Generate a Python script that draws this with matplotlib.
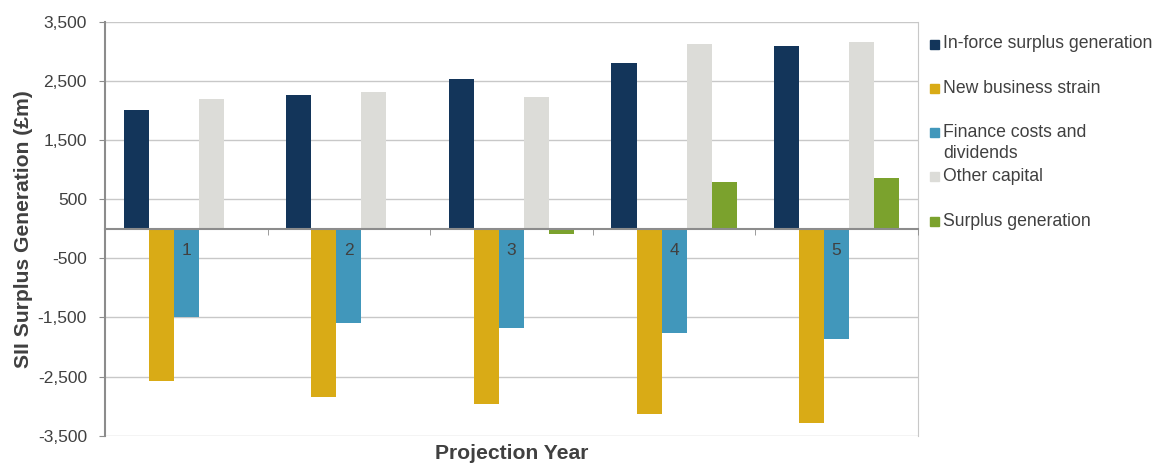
import matplotlib
matplotlib.use('Agg')
import matplotlib.pyplot as plt
from matplotlib.patches import Rectangle
from matplotlib.ticker import FuncFormatter, FixedLocator
import numpy as np

plt.rcParams['font.family'] = ['Liberation Sans', 'DejaVu Sans']

# data (GBP m)
years = ['1', '2', '3', '4', '5']
series_names = ['In-force surplus generation', 'New business strain',
                'Finance costs and\ndividends', 'Other capital', 'Surplus generation']
inforce = [2010, 2260, 2530, 2810, 3100]
new_business = [-2580, -2840, -2970, -3130, -3280]
finance = [-1500, -1590, -1670, -1770, -1870]
other_capital = [2200, 2320, 2225, 3125, 3165]
surplus = [0, 0, -90, 800, 855]
colors = ['#13355A', '#D9AB16', '#4197BB', '#DCDCD8', '#7BA22D']

text_col = '#404040'
fig = plt.figure(figsize=(11.58, 4.63), dpi=100)
ax = fig.add_axes([0.0907, 0.059, 0.702, 0.8935])

x = np.arange(len(years))
w = 0.154
all_series = [inforce, new_business, finance, other_capital, surplus]
for i, (vals, c) in enumerate(zip(all_series, colors)):
    ax.bar(x + (i - 2) * w, vals, width=w, color=c, zorder=2)

ax.set_xlim(-0.5, len(years) - 0.5)
ax.set_ylim(-3500, 3500)
ax.set_yticks(np.arange(-3500, 3501, 1000))
ax.yaxis.set_major_formatter(FuncFormatter(lambda v, p: f'{int(v):,}'))
ax.grid(axis='y', color='#C8C8C8', linewidth=1)
ax.set_axisbelow(True)
ax.xaxis.set_zorder(3)

# x axis sits on zero, labels at group centres, tick marks between groups
ax.spines['bottom'].set_position(('data', 0))
ax.spines['bottom'].set_color('#8C8C8C')
ax.spines['bottom'].set_linewidth(1.5)
ax.spines['left'].set_color('#8C8C8C')
ax.spines['left'].set_linewidth(1.5)
ax.spines['top'].set_visible(False)
ax.spines['right'].set_color('#C8C8C8')
ax.set_xticks(x)
ax.set_xticklabels(years)
ax.xaxis.set_minor_locator(FixedLocator(np.arange(-0.5, len(years), 1.0)))
ax.tick_params(axis='x', which='major', length=0, pad=10, labelsize=12.5, labelcolor=text_col)
ax.tick_params(axis='x', which='minor', length=4, color='#8C8C8C', direction='out')
ax.tick_params(axis='y', length=4, color='#8C8C8C', pad=9, labelsize=12.5, labelcolor=text_col)

ax.set_ylabel('SII Surplus Generation (£m)', fontsize=15.2, fontweight='bold', color=text_col)
ax.yaxis.set_label_coords(-0.088, 0.5)
ax.set_xlabel('Projection Year', fontsize=15.2, fontweight='bold', color=text_col)
ax.xaxis.set_label_coords(0.5, -0.02)

# legend drawn by hand to keep the even spacing of the original
W, H = 1158, 463
for i, (name, c) in enumerate(zip(series_names, colors)):
    yc = 44 + 44.3 * i
    fig.patches.append(Rectangle((930 / W, 1 - (yc + 4.5) / H), 9 / W, 9 / H,
                                 transform=fig.transFigure, color=c))
    for j, line in enumerate(name.split('\n')):
        fig.text(943 / W, 1 - (yc + 21 * j) / H, line, fontsize=12.7, color=text_col,
                 va='center', ha='left')

fig.savefig('out.png', dpi=100)
